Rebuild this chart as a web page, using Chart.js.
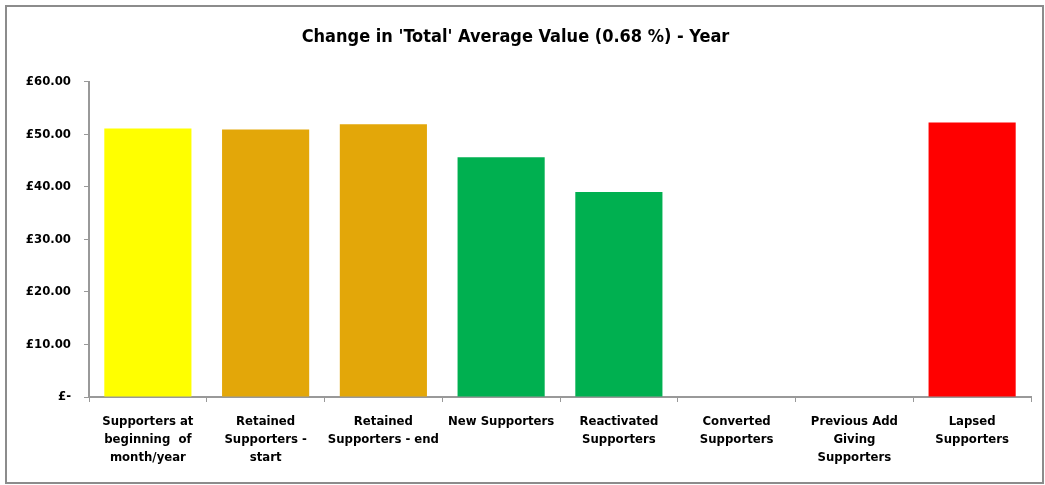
<!DOCTYPE html>
<html>
<head>
<meta charset="utf-8">
<script src="https://cdn.jsdelivr.net/npm/chart.js@4/dist/chart.umd.min.js"></script>
<style>
  html, body { margin: 0; padding: 0; background: #fff; }
  canvas { display: block; }
</style>
</head>
<body>
<canvas id="myChart" width="1045" height="485"></canvas>
<script>
// categories (wrapped as in the original axis)
var categories = [
    ['Supporters at', 'beginning  of', 'month/year'],
    ['Retained', 'Supporters -', 'start'],
    ['Retained', 'Supporters - end'],
    ['New Supporters'],
    ['Reactivated', 'Supporters'],
    ['Converted', 'Supporters'],
    ['Previous Add', 'Giving', 'Supporters'],
    ['Lapsed', 'Supporters']
];
var averageValues = [51.1, 50.9, 51.9, 45.6, 39.0, 0, 0, 52.2];
var barColours = ['#FFFF00', '#E3A709', '#E3A709', '#00B050', '#00B050', '#00B050', '#00B050', '#FF0000'];
var yTicks = [0, 10, 20, 30, 40, 50, 60];

var chartTitle = "Change in 'Total' Average Value (0.68 %) - Year";

// ramecek okolo celeho grafu
var framePlugin = {
    id: 'frame',
    beforeDraw: function (chart) {
        var c = chart.ctx;
        c.save();
        c.fillStyle = '#ffffff';
        c.fillRect(0, 0, chart.width, chart.height);
        c.strokeStyle = '#8c8c8c';
        c.lineWidth = 2;
        c.strokeRect(6, 6, chart.width - 8, chart.height - 8);
        c.restore();
    }
};

var ctx = document.getElementById('myChart').getContext('2d');
var myChart = new Chart(ctx, {
    type: 'bar',
    data: {
        labels: categories,
        datasets: [{
            data: averageValues,
            backgroundColor: barColours,
            borderWidth: 0,
            categoryPercentage: 1.0,
            barPercentage: 0.74
        }]
    },
    plugins: [framePlugin],
    options: {
        responsive: false,
        animation: false,
        layout: {
            padding: { top: 24, right: 14, bottom: 7, left: 0 }
        },
        plugins: {
            legend: { display: false },
            tooltip: { enabled: false },
            title: {
                display: true,
                text: chartTitle,
                color: '#000',
                font: { family: "'DejaVu Sans Condensed', 'DejaVu Sans', sans-serif", size: 18, weight: 'bold' },
                padding: { top: 3, bottom: 33 }
            }
        },
        scales: {
            x: {
                grid: {
                    display: true,
                    drawOnChartArea: false,
                    drawTicks: true,
                    tickLength: 5,
                    color: '#999999',
                    offset: true
                },
                border: { color: '#999999', width: 2 },
                ticks: {
                    color: '#000',
                    padding: 11,
                    maxRotation: 0,
                    autoSkip: false,
                    font: { family: "'DejaVu Sans Condensed', 'DejaVu Sans', sans-serif", size: 13, weight: 'bold', lineHeight: '18px' }
                }
            },
            y: {
                min: 0,
                max: 60,
                afterFit: function (scale) { scale.width = 89; },
                afterBuildTicks: function (scale) {
                    scale.ticks = yTicks.map(function (v) { return { value: v }; });
                },
                grid: {
                    display: true,
                    drawOnChartArea: false,
                    drawTicks: true,
                    tickLength: 5,
                    color: '#999999'
                },
                border: { color: '#999999', width: 2 },
                ticks: {
                    color: '#000',
                    padding: 13,
                    font: { family: "'DejaVu Sans Condensed', 'DejaVu Sans', sans-serif", size: 13, weight: 'bold' },
                    callback: function (value) {
                        return value === 0 ? '£-' : '£' + value.toFixed(2);
                    }
                }
            }
        }
    }
});
</script>
</body>
</html>
